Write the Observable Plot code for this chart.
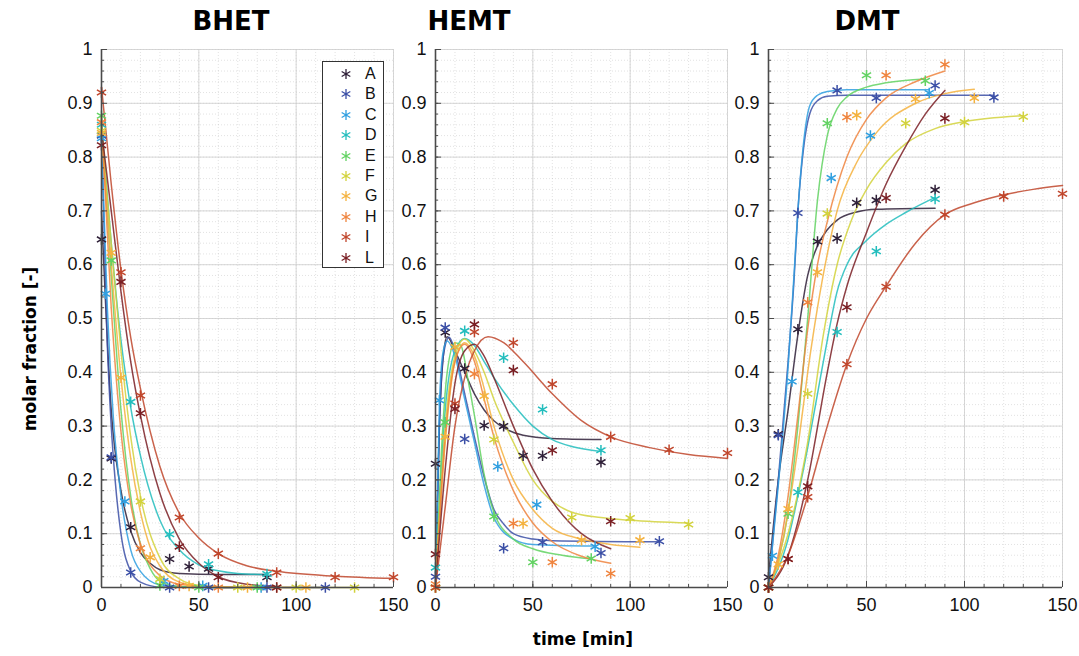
<!DOCTYPE html>
<html>
<head>
<meta charset="utf-8">
<script src="https://cdn.jsdelivr.net/npm/d3@7"></script>
<script src="https://cdn.jsdelivr.net/npm/@observablehq/plot@0.6"></script>
<style>
  body { margin: 0; background: #fff; }
  #fig { position: relative; width: 1079px; height: 656px; overflow: hidden; font-family: "Liberation Sans", Arial, sans-serif; }
  .panel { position: absolute; top: 0; }
  .title { position: absolute; top: 6px; transform: translateX(-50%); font: bold 26px "DejaVu Sans", Verdana, sans-serif; color: #000; white-space: nowrap; }
  .ylab { position: absolute; left: 30px; top: 349px; transform: translate(-50%, -50%) rotate(-90deg); font: bold 17px "DejaVu Sans", Verdana, sans-serif; white-space: nowrap; }
  .xlab { position: absolute; left: 583px; top: 629px; transform: translateX(-50%); font: bold 17px "DejaVu Sans", Verdana, sans-serif; white-space: nowrap; }
  .legend { position: absolute; left: 322px; top: 61px; width: 62px; height: 207px; border: 1.5px solid #333; background: #fff; box-sizing: border-box; }
  .legend .row { position: absolute; left: 0; height: 20px; width: 100%; }
  .legend svg { position: absolute; left: 17px; top: 4px; }
  .legend span { position: absolute; left: 42px; top: 1px; font-size: 16px; color: #111; }
</style>
</head>
<body>
<div id="fig"></div>
<script>
// Experiment series and their colours
const series = ["A", "B", "C", "D", "E", "F", "G", "H", "I", "L"];
const colors = ["#2f2038", "#3b4fa6", "#2f9fe0", "#22bdbd", "#62d262", "#d2d23c", "#f4b23e", "#ef843e", "#c0462c", "#7a1f24"];

// Axis ticks
const yMajor = [0, 0.1, 0.2, 0.3, 0.4, 0.5, 0.6, 0.7, 0.8, 0.9, 1];
const yMinor = d3.range(0, 51).map(i => i / 50);
const xMajor = [0, 50, 100, 150];
const xMinor = d3.range(0, 16).map(i => i * 10);

// Measured molar fractions: [series, time (min), value]
const bhetPoints = [
  ["A",0,0.647],["A",5,0.24],["A",15,0.112],["A",35,0.053],["A",45,0.039],["A",55,0.035],["A",85,0.019],
  ["B",0,0.84],["B",5,0.242],["B",15,0.028],["B",35,0],["B",55,0],["B",85,0],["B",115,0],
  ["C",0,0.835],["C",2,0.546],["C",12,0.16],["C",32,0.012],["C",52,0.003],["C",82,0],
  ["D",0,0.86],["D",15,0.345],["D",35,0.099],["D",55,0.043],["D",85,0.025],
  ["E",0,0.877],["E",5,0.608],["E",30,0.004],["E",50,0],["E",80,0],
  ["F",0,0.849],["F",20,0.16],["F",30,0.016],["F",70,0],["F",100,0],["F",130,0],
  ["G",0,0.845],["G",5,0.622],["G",10,0.39],["G",25,0.056],["G",45,0.003],["G",75,0],["G",105,0],
  ["H",0,0.865],["H",20,0.073],["H",40,0.003],["H",60,0],["H",90,0],
  ["I",0,0.92],["I",10,0.586],["I",20,0.357],["I",40,0.13],["I",60,0.063],["I",90,0.028],["I",120,0.019],["I",150,0.019],
  ["L",0,0.822],["L",10,0.568],["L",20,0.324],["L",40,0.076],["L",60,0.019],["L",90,0]
];
const hemtPoints = [
  ["A",0,0.23],["A",5,0.474],["A",15,0.407],["A",25,0.301],["A",35,0.30],["A",45,0.245],["A",55,0.245],["A",85,0.233],
  ["B",0,0.02],["B",5,0.483],["B",15,0.276],["B",35,0.073],["B",55,0.084],["B",85,0.064],["B",115,0.086],
  ["C",0,0],["C",2,0.348],["C",32,0.225],["C",52,0.154],["C",82,0.076],
  ["D",0,0.037],["D",15,0.477],["D",35,0.427],["D",55,0.331],["D",85,0.255],
  ["E",0,0],["E",5,0.307],["E",30,0.132],["E",50,0.047],["E",80,0.054],
  ["F",0,0],["F",30,0.275],["F",70,0.13],["F",100,0.129],["F",130,0.117],
  ["G",0,0],["G",5,0.28],["G",10,0.447],["G",25,0.356],["G",45,0.119],["G",75,0.088],["G",105,0.088],
  ["H",0,0.006],["H",20,0.397],["H",40,0.119],["H",60,0.047],["H",90,0.026],
  ["I",0,0],["I",10,0.342],["I",20,0.475],["I",40,0.455],["I",60,0.378],["I",90,0.28],["I",120,0.256],["I",150,0.25],
  ["L",0,0.062],["L",10,0.332],["L",20,0.489],["L",40,0.404],["L",60,0.255],["L",90,0.123]
];
const dmtPoints = [
  ["A",0,0.019],["A",5,0.285],["A",15,0.48],["A",25,0.643],["A",35,0.649],["A",45,0.715],["A",55,0.72],["A",85,0.739],
  ["B",0,0],["B",5,0.283],["B",15,0.696],["B",35,0.924],["B",55,0.91],["B",85,0.933],["B",115,0.911],
  ["C",0,0],["C",2,0.059],["C",12,0.383],["C",32,0.761],["C",52,0.84],["C",82,0.919],
  ["D",0,0],["D",15,0.177],["D",35,0.475],["D",55,0.625],["D",85,0.722],
  ["E",0,0],["E",10,0.137],["E",30,0.863],["E",50,0.952],["E",80,0.942],
  ["F",0,0],["F",20,0.36],["F",30,0.695],["F",70,0.863],["F",100,0.865],["F",130,0.875],
  ["G",0,0],["G",5,0.043],["G",10,0.146],["G",25,0.586],["G",45,0.878],["G",75,0.908],["G",105,0.91],
  ["H",0,0],["H",20,0.53],["H",40,0.874],["H",60,0.952],["H",90,0.972],
  ["I",0,0],["I",10,0.053],["I",20,0.168],["I",40,0.415],["I",60,0.559],["I",90,0.693],["I",120,0.727],["I",150,0.732],
  ["L",0,0],["L",10,0.053],["L",20,0.188],["L",40,0.521],["L",60,0.724],["L",90,0.872]
];

// Fitted kinetic model curves: [series, time (min), value]
const bhetFit = [
  ["A",0,0.70],["A",5,0.33],["A",10,0.18],["A",15,0.105],["A",20,0.065],["A",25,0.045],["A",30,0.033],["A",40,0.026],["A",60,0.024],["A",85,0.024],
  ["B",0,0.84],["B",3,0.45],["B",5,0.3],["B",7,0.2],["B",10,0.1],["B",15,0.03],["B",20,0.01],["B",30,0.001],["B",60,0],["B",115,0],
  ["C",0,0.835],["C",3,0.52],["C",6,0.32],["C",10,0.17],["C",15,0.07],["C",20,0.03],["C",30,0.005],["C",50,0],["C",82,0],
  ["D",0,0.86],["D",5,0.64],["D",10,0.46],["D",15,0.335],["D",20,0.245],["D",30,0.125],["D",40,0.07],["D",50,0.042],["D",60,0.031],["D",70,0.026],["D",85,0.024],
  ["E",0,0.877],["E",5,0.58],["E",10,0.33],["E",15,0.17],["E",20,0.08],["E",25,0.035],["E",30,0.012],["E",40,0.002],["E",60,0],["E",80,0],
  ["F",0,0.849],["F",5,0.64],["F",10,0.44],["F",15,0.28],["F",20,0.17],["F",30,0.055],["F",40,0.016],["F",50,0.004],["F",70,0],["F",130,0],
  ["G",0,0.845],["G",5,0.6],["G",10,0.39],["G",15,0.24],["G",20,0.14],["G",25,0.075],["G",30,0.04],["G",40,0.01],["G",55,0.001],["G",105,0],
  ["H",0,0.865],["H",5,0.52],["H",10,0.29],["H",15,0.155],["H",20,0.08],["H",25,0.042],["H",30,0.022],["H",40,0.006],["H",60,0],["H",90,0],
  ["L",0,0.85],["L",5,0.7],["L",10,0.55],["L",15,0.42],["L",20,0.32],["L",30,0.175],["L",40,0.09],["L",50,0.045],["L",60,0.02],["L",75,0.006],["L",90,0.002],
  ["I",0,0.93],["I",5,0.75],["I",10,0.59],["I",15,0.465],["I",20,0.37],["I",30,0.225],["I",40,0.138],["I",50,0.092],["I",60,0.063],["I",75,0.04],["I",90,0.03],["I",120,0.021],["I",150,0.017]
];
const hemtFit = [
  ["A",0,0.02],["A",2,0.3],["A",4,0.43],["A",6,0.466],["A",10,0.44],["A",15,0.4],["A",20,0.36],["A",25,0.33],["A",30,0.31],["A",35,0.297],["A",45,0.283],["A",60,0.277],["A",85,0.275],
  ["B",0,0],["B",2,0.3],["B",4,0.43],["B",7,0.465],["B",10,0.44],["B",15,0.36],["B",20,0.28],["B",25,0.205],["B",30,0.145],["B",35,0.118],["B",40,0.1],["B",50,0.09],["B",60,0.087],["B",115,0.085],
  ["C",0,0],["C",2,0.34],["C",4,0.44],["C",6,0.458],["C",10,0.43],["C",15,0.35],["C",20,0.27],["C",25,0.19],["C",30,0.13],["C",40,0.09],["C",50,0.08],["C",82,0.077],
  ["D",0,0],["D",5,0.33],["D",10,0.44],["D",15,0.463],["D",20,0.45],["D",25,0.42],["D",30,0.39],["D",40,0.34],["D",50,0.3],["D",60,0.275],["D",70,0.262],["D",85,0.253],
  ["E",0,0],["E",3,0.25],["E",6,0.4],["E",10,0.455],["E",13,0.45],["E",17,0.38],["E",20,0.32],["E",25,0.21],["E",30,0.14],["E",40,0.09],["E",50,0.072],["E",65,0.06],["E",80,0.053],
  ["F",0,0],["F",5,0.3],["F",10,0.43],["F",15,0.462],["F",20,0.44],["F",25,0.4],["F",30,0.35],["F",40,0.27],["F",50,0.2],["F",60,0.16],["F",70,0.14],["F",85,0.13],["F",100,0.125],["F",130,0.12],
  ["G",0,0],["G",5,0.27],["G",10,0.42],["G",15,0.455],["G",20,0.43],["G",25,0.37],["G",30,0.3],["G",40,0.2],["G",50,0.145],["G",60,0.11],["G",75,0.09],["G",90,0.08],["G",105,0.075],
  ["H",0,0],["H",5,0.28],["H",10,0.42],["H",15,0.452],["H",20,0.42],["H",25,0.35],["H",30,0.28],["H",40,0.18],["H",50,0.12],["H",60,0.085],["H",75,0.058],["H",90,0.045],
  ["L",0,0],["L",5,0.22],["L",10,0.38],["L",15,0.44],["L",20,0.452],["L",25,0.43],["L",30,0.39],["L",40,0.3],["L",50,0.22],["L",60,0.16],["L",75,0.1],["L",90,0.072],
  ["I",0,0],["I",5,0.15],["I",10,0.3],["I",15,0.39],["I",20,0.44],["I",27,0.466],["I",35,0.455],["I",45,0.42],["I",60,0.36],["I",75,0.31],["I",90,0.28],["I",110,0.26],["I",130,0.247],["I",150,0.24]
];
const dmtFit = [
  ["A",0,0.02],["A",5,0.2],["A",10,0.33],["A",15,0.47],["A",20,0.58],["A",25,0.635],["A",30,0.665],["A",35,0.683],["A",45,0.698],["A",55,0.703],["A",85,0.705],
  ["B",0,0],["B",5,0.2],["B",10,0.42],["B",13,0.57],["B",15,0.7],["B",18,0.82],["B",21,0.88],["B",25,0.905],["B",30,0.913],["B",40,0.915],["B",115,0.915],
  ["C",0,0],["C",5,0.19],["C",10,0.41],["C",13,0.58],["C",15,0.7],["C",18,0.83],["C",21,0.895],["C",25,0.915],["C",30,0.922],["C",40,0.925],["C",82,0.925],
  ["D",0,0],["D",10,0.09],["D",15,0.17],["D",20,0.26],["D",25,0.36],["D",30,0.46],["D",35,0.55],["D",40,0.6],["D",50,0.645],["D",60,0.675],["D",70,0.697],["D",85,0.725],
  ["E",0,0],["E",5,0.05],["E",10,0.14],["E",15,0.3],["E",20,0.5],["E",25,0.72],["E",30,0.84],["E",35,0.89],["E",40,0.912],["E",50,0.93],["E",60,0.938],["E",80,0.945],
  ["F",0,0],["F",10,0.1],["F",20,0.27],["F",28,0.47],["F",35,0.6],["F",42,0.68],["F",50,0.74],["F",60,0.79],["F",70,0.825],["F",85,0.853],["F",100,0.866],["F",130,0.877],
  ["G",0,0],["G",5,0.05],["G",10,0.14],["G",15,0.26],["G",20,0.4],["G",25,0.52],["G",30,0.62],["G",35,0.7],["G",45,0.79],["G",55,0.845],["G",75,0.9],["G",90,0.918],["G",105,0.926],
  ["H",0,0],["H",5,0.06],["H",10,0.17],["H",15,0.32],["H",20,0.48],["H",25,0.6],["H",30,0.68],["H",40,0.8],["H",50,0.87],["H",60,0.91],["H",75,0.94],["H",90,0.96],
  ["L",0,0],["L",10,0.06],["L",20,0.2],["L",30,0.4],["L",35,0.49],["L",40,0.56],["L",50,0.66],["L",60,0.75],["L",70,0.82],["L",80,0.88],["L",90,0.924],
  ["I",0,0],["I",10,0.06],["I",20,0.17],["I",30,0.3],["I",40,0.415],["I",50,0.5],["I",60,0.56],["I",75,0.64],["I",90,0.693],["I",105,0.715],["I",120,0.73],["I",135,0.74],["I",150,0.747]
];

const panels = [
  { title: "BHET", points: bhetPoints, fit: bhetFit, left: 0, width: 400, marginLeft: 101, marginRight: 7, titleX: 231 },
  { title: "HEMT", points: hemtPoints, fit: hemtFit, left: 400, width: 335, marginLeft: 35, marginRight: 8, titleX: 469 },
  { title: "DMT", points: dmtPoints, fit: dmtFit, left: 733, width: 346, marginLeft: 35, marginRight: 17, titleX: 867 }
];

const fig = document.getElementById("fig");
const fmt = d => String(+d.toFixed(1));
const axisColor = "#4a4a4a";

for (const p of panels) {
  const chart = Plot.plot({
    width: p.width,
    height: 620,
    marginTop: 49,
    marginBottom: 33,
    marginLeft: p.marginLeft,
    marginRight: p.marginRight,
    x: { domain: [0, 150] },
    y: { domain: [0, 1] },
    color: { domain: series, range: colors },
    style: { fontFamily: "'Liberation Sans', Arial, sans-serif", fontSize: "18px", color: "#222", background: "transparent", overflow: "visible" },
    marks: [
      Plot.gridY(yMinor, { stroke: "#a0a0a0", strokeOpacity: 0.3, strokeDasharray: "1,2" }),
      Plot.gridX(xMinor, { stroke: "#a0a0a0", strokeOpacity: 0.3, strokeDasharray: "1,2" }),
      Plot.gridY(yMajor, { stroke: "#cdcdcd", strokeOpacity: 0.8 }),
      Plot.gridX(xMajor, { stroke: "#cdcdcd", strokeOpacity: 0.8 }),
      Plot.line(p.fit, { x: d => d[1], y: d => d[2], z: d => d[0], stroke: d => d[0], curve: "monotone-x", strokeWidth: 1.5, strokeOpacity: 0.85 }),
      Plot.dot(p.points, { x: d => d[1], y: d => d[2], stroke: d => d[0], symbol: "asterisk", r: 5, strokeWidth: 1.5, fill: "none" }),
      Plot.axisY(yMinor, { tickSize: -3, tickFormat: () => "", stroke: axisColor, label: null }),
      Plot.axisY(yMajor, { tickSize: -6, tickFormat: () => "", stroke: axisColor, label: null }),
      Plot.axisY(yMajor, { tickSize: 0, tickPadding: 9, tickFormat: fmt, fill: "#111", label: null }),
      Plot.axisX(xMinor, { tickSize: -3, tickFormat: () => "", stroke: axisColor, label: null }),
      Plot.axisX(xMajor, { tickSize: -6, tickFormat: () => "", stroke: axisColor, label: null }),
      Plot.axisX(xMajor, { tickSize: 0, tickPadding: 11, tickFormat: fmt, fill: "#111", label: null }),
      Plot.ruleX([0], { stroke: axisColor, strokeWidth: 1.6 }),
      Plot.ruleY([0], { stroke: axisColor, strokeWidth: 1.6 })
    ]
  });
  const wrap = document.createElement("div");
  wrap.className = "panel";
  wrap.style.left = p.left + "px";
  wrap.appendChild(chart);
  fig.appendChild(wrap);

  const t = document.createElement("div");
  t.className = "title";
  t.style.left = p.titleX + "px";
  t.textContent = p.title;
  fig.appendChild(t);
}

// Axis titles
const yl = document.createElement("div");
yl.className = "ylab";
yl.textContent = "molar fraction [-]";
fig.appendChild(yl);
const xl = document.createElement("div");
xl.className = "xlab";
xl.textContent = "time [min]";
fig.appendChild(xl);

// Legend box in the first panel
const legend = document.createElement("div");
legend.className = "legend";
const star = d3.symbol(d3.symbolAsterisk, 70)();
series.forEach((s, i) => {
  const row = document.createElement("div");
  row.className = "row";
  row.style.top = (i * 20.4 + 2) + "px";
  row.innerHTML = `<svg width="12" height="12" viewBox="-6 -6 12 12"><path d="${star}" stroke="${colors[i]}" stroke-width="1.3" fill="none"/></svg><span>${s}</span>`;
  legend.appendChild(row);
});
fig.appendChild(legend);
</script>
</body>
</html>
